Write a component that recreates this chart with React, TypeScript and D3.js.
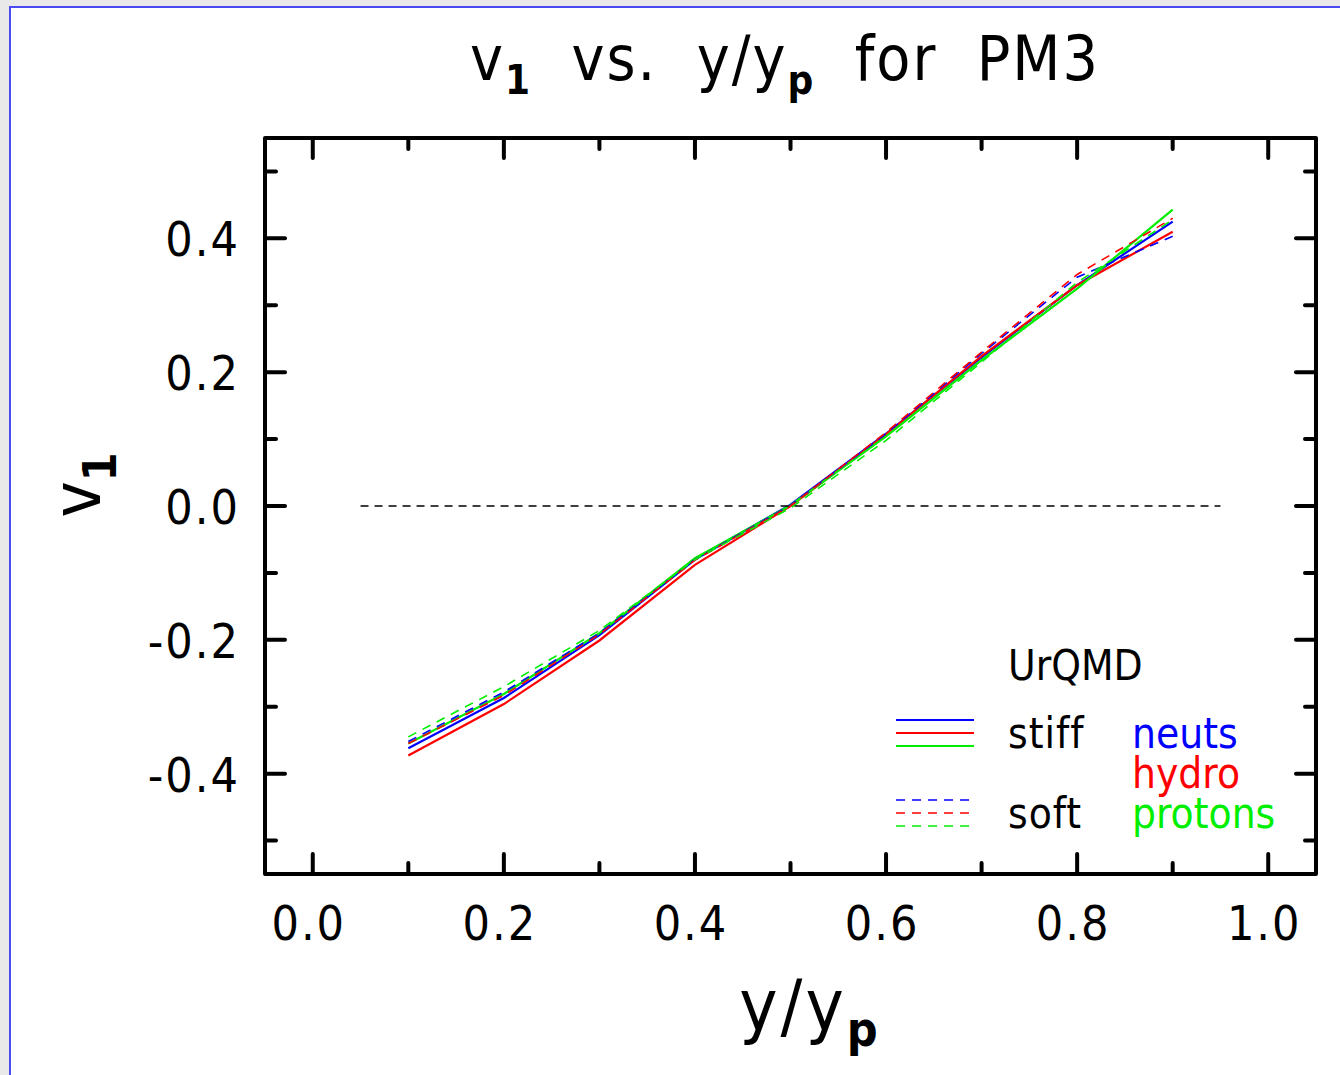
import React from "react";
import * as d3 from "d3";

const rapidity = [0.1, 0.2, 0.3, 0.4, 0.5, 0.6, 0.7, 0.8, 0.9];
const stiffNeuts = [-0.362, -0.287, -0.193, -0.080, 0.002, 0.108, 0.222, 0.330, 0.425];
const stiffHydro = [-0.373, -0.296, -0.201, -0.088, 0.0, 0.107, 0.224, 0.330, 0.410];
const stiffProtons = [-0.355, -0.281, -0.190, -0.078, 0.001, 0.104, 0.218, 0.325, 0.443];
const softNeuts = [-0.352, -0.278, -0.190, -0.080, 0.001, 0.108, 0.228, 0.342, 0.403];
const softHydro = [-0.355, -0.283, -0.192, -0.081, 0.0, 0.110, 0.230, 0.346, 0.430];
const softProtons = [-0.345, -0.270, -0.186, -0.080, -0.003, 0.098, 0.215, 0.334, 0.428];

const xTicks = [0.0, 0.2, 0.4, 0.6, 0.8, 1.0];
const xMinor = [0.1, 0.3, 0.5, 0.7, 0.9];
const yTicks = [-0.4, -0.2, 0.0, 0.2, 0.4];
const yMinor = [-0.5, -0.3, -0.1, 0.1, 0.3, 0.5];

const BLUE = "#0000ff";
const RED = "#ff0000";
const GREEN = "#00ee00";
const FONT = "'Liberation Sans Narrow', 'DejaVu Sans Condensed', 'Roboto', sans-serif";

const series = [
  { values: stiffNeuts, color: BLUE, dash: null },
  { values: stiffHydro, color: RED, dash: null },
  { values: stiffProtons, color: GREEN, dash: null },
  { values: softNeuts, color: BLUE, dash: "9,7" },
  { values: softHydro, color: RED, dash: "9,7" },
  { values: softProtons, color: GREEN, dash: "9,7" },
];

export default function App() {
  const L = 265, R = 1316, T = 138, B = 874;
  const x = d3.scaleLinear().domain([-0.05, 1.05]).range([L, R]);
  const y = d3.scaleLinear().domain([-0.55, 0.55]).range([B, T]);
  const line = d3
    .line<number>()
    .x((_, i) => x(rapidity[i]))
    .y((d) => y(d));

  const fmt = (v: number) => (v < 0 ? "-" : "") + Math.abs(v).toFixed(1);

  return (
    <svg
      width={1340}
      height={1075}
      style={{ position: "absolute", left: 0, top: 0 }}
      fontFamily={FONT}
    >
      <rect x={0} y={0} width={1340} height={1075} fill="#e9e9e9" />
      <rect x={10} y={7} width={1340} height={1080} fill="#ffffff" stroke="#4a4af0" strokeWidth={2} />

      {/* title */}
      <text x={785} y={80} fontSize={62} textAnchor="middle" fill="#000" letterSpacing={2}>
        v<tspan fontSize={40} dy={14} fontWeight="bold">1</tspan>
        <tspan dy={-14}>{"\u00a0 vs.\u00a0 y/y"}</tspan>
        <tspan fontSize={40} dy={14} fontWeight="bold">p</tspan>
        <tspan dy={-14}>{"\u00a0 for\u00a0 PM3"}</tspan>
      </text>

      {/* series */}
      {series.map((s, i) => (
        <path
          key={i}
          d={line(s.values) || ""}
          fill="none"
          stroke={s.color}
          strokeWidth={s.dash ? 1.6 : 2.2}
          strokeDasharray={s.dash || undefined}
        />
      ))}

      {/* zero line */}
      <line x1={x(0.05)} x2={x(0.95)} y1={y(0)} y2={y(0)} stroke="#000" strokeWidth={1.3} strokeDasharray="8,6" />

      {/* frame */}
      <rect x={L} y={T} width={R - L} height={B - T} fill="none" stroke="#000" strokeWidth={4} strokeLinejoin="round" />

      {/* x ticks */}
      {xTicks.map((t) => (
        <g key={"xt" + t} stroke="#000" strokeWidth={4} strokeLinecap="round">
          <line x1={x(t)} x2={x(t)} y1={B} y2={B - 20} />
          <line x1={x(t)} x2={x(t)} y1={T} y2={T + 20} />
        </g>
      ))}
      {xMinor.map((t) => (
        <g key={"xm" + t} stroke="#000" strokeWidth={4} strokeLinecap="round">
          <line x1={x(t)} x2={x(t)} y1={B} y2={B - 11} />
          <line x1={x(t)} x2={x(t)} y1={T} y2={T + 11} />
        </g>
      ))}
      {yTicks.map((t) => (
        <g key={"yt" + t} stroke="#000" strokeWidth={4} strokeLinecap="round">
          <line x1={L} x2={L + 20} y1={y(t)} y2={y(t)} />
          <line x1={R} x2={R - 20} y1={y(t)} y2={y(t)} />
        </g>
      ))}
      {yMinor.map((t) => (
        <g key={"ym" + t} stroke="#000" strokeWidth={4} strokeLinecap="round">
          <line x1={L} x2={L + 11} y1={y(t)} y2={y(t)} />
          <line x1={R} x2={R - 11} y1={y(t)} y2={y(t)} />
        </g>
      ))}

      {/* tick labels */}
      {xTicks.map((t) => (
        <text key={"xl" + t} x={x(t) - 4} y={940} fontSize={48} textAnchor="middle" letterSpacing={2} fontWeight="500">
          {t.toFixed(1)}
        </text>
      ))}
      {yTicks.map((t) => (
        <text key={"yl" + t} x={240} y={y(t) + 18} fontSize={48} textAnchor="end" letterSpacing={2} fontWeight="500">
          {fmt(t)}
        </text>
      ))}

      {/* axis labels */}
      <text x={810} y={1030} fontSize={72} textAnchor="middle" letterSpacing={3}>
        y/y<tspan fontSize={48} dy={16} fontWeight="bold">p</tspan>
      </text>
      <text transform="translate(100,485) rotate(-90)" fontSize={68} textAnchor="middle">
        v<tspan fontSize={46} dy={16} fontWeight="bold">1</tspan>
      </text>

      {/* legend */}
      <text x={1008} y={680} fontSize={42}>UrQMD</text>
      {[
        { c: BLUE, yy: 720 },
        { c: RED, yy: 733 },
        { c: GREEN, yy: 746 },
      ].map((d, i) => (
        <line key={"ls" + i} x1={896} x2={974} y1={d.yy} y2={d.yy} stroke={d.c} strokeWidth={2} />
      ))}
      {[
        { c: BLUE, yy: 800 },
        { c: RED, yy: 813 },
        { c: GREEN, yy: 826 },
      ].map((d, i) => (
        <line key={"ld" + i} x1={896} x2={974} y1={d.yy} y2={d.yy} stroke={d.c} strokeWidth={1.4} strokeDasharray="9,7" />
      ))}
      <text x={1008} y={748} fontSize={42} letterSpacing={1}>stiff</text>
      <text x={1008} y={828} fontSize={42} letterSpacing={1}>soft</text>
      <text x={1132} y={748} fontSize={42} fill={BLUE}>neuts</text>
      <text x={1132} y={788} fontSize={42} fill={RED}>hydro</text>
      <text x={1132} y={828} fontSize={42} fill={GREEN}>protons</text>
    </svg>
  );
}
